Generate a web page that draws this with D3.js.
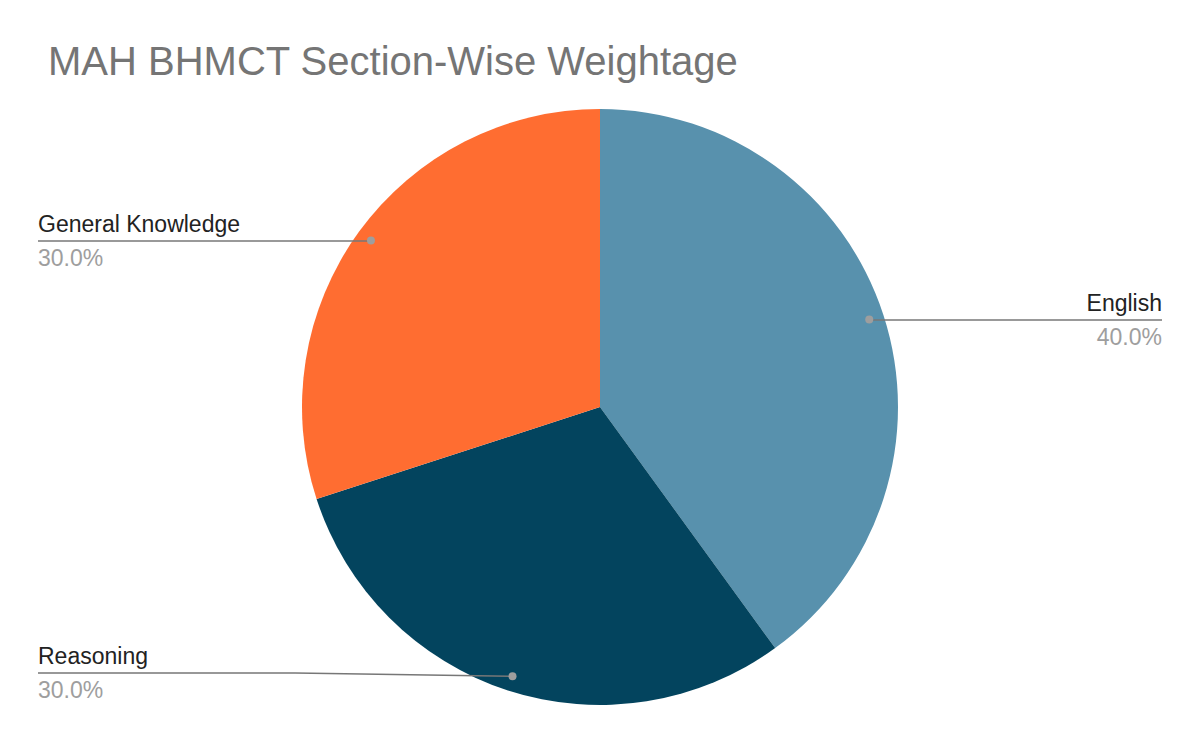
<!DOCTYPE html>
<html>
<head>
<meta charset="utf-8">
<script src="https://cdn.jsdelivr.net/npm/d3@7"></script>
<style>
  body { margin: 0; background: #fff; }
  text { font-family: 'Liberation Sans', Arial, Helvetica, sans-serif; }
</style>
</head>
<body>
<div id="chart"></div>
<script>
// chart data
var categories = ["English", "Reasoning", "General Knowledge"];
var weights = [40, 30, 30];
var colors = ["#5891ad", "#03445e", "#ff6d31"];

var width = 1200;
var height = 742;
var cx = 600, cy = 407, radius = 298;
var fontName = "'Liberation Sans', Arial, sans-serif";

var svg = d3.select('#chart')
    .append('svg')
    .attr('width', width)
    .attr('height', height);

svg.append('text')
    .attr('x', 48)
    .attr('y', 75)
    .attr('font-family', fontName)
    .attr('font-size', 40)
    .attr('fill', '#757575')
    .text('MAH BHMCT Section-Wise Weightage');

var data = categories.map(function(c, i) {
    return {name: c, value: weights[i], color: colors[i]};
});

var pie = d3.pie().sort(null).value(function(d) { return d.value; });
var arcs = pie(data);
var total = d3.sum(weights);

var arc = d3.arc().innerRadius(0).outerRadius(radius);
var dotArc = d3.arc().innerRadius(radius * 0.95).outerRadius(radius * 0.95);

var g = svg.append('g').attr('transform', 'translate(' + cx + ',' + cy + ')');

g.selectAll('.slice')
    .data(arcs)
    .enter()
    .append('path')
    .attr('class', 'slice')
    .attr('d', arc)
    .attr('fill', function(d) { return d.data.color; });

// where each label sits: side and line height
var labelSpots = {
    "English": {side: 'right', x: 1162, y: 320},
    "Reasoning": {side: 'left', x: 38, y: 673},
    "General Knowledge": {side: 'left', x: 38, y: 241}
};

arcs.forEach(function(d) {
    var p = dotArc.centroid(d);
    var px = p[0] + cx, py = p[1] + cy;
    var spot = labelSpots[d.data.name];
    var pts;
    if (Math.abs(py - spot.y) > 1) {
        var bend = spot.side === 'left' ? 295 : px + 40;
        pts = [[spot.x, spot.y], [bend, spot.y], [px, py]];
    } else {
        pts = [[spot.x, spot.y], [px, spot.y]];
    }
    svg.append('path')
        .attr('d', d3.line()(pts))
        .attr('fill', 'none')
        .attr('stroke', '#777')
        .attr('stroke-width', 1.5);
    svg.append('circle')
        .attr('cx', px)
        .attr('cy', py)
        .attr('r', 4)
        .attr('fill', '#9e9e9e');

    var anchor = spot.side === 'left' ? 'start' : 'end';
    svg.append('text')
        .attr('x', spot.x)
        .attr('y', spot.y - 9)
        .attr('text-anchor', anchor)
        .attr('font-family', fontName)
        .attr('font-size', 23)
        .attr('fill', '#222')
        .text(d.data.name);
    svg.append('text')
        .attr('x', spot.x)
        .attr('y', spot.y + 25)
        .attr('text-anchor', anchor)
        .attr('font-family', fontName)
        .attr('font-size', 23)
        .attr('fill', '#9e9e9e')
        .text(d3.format('.1f')(d.data.value / total * 100) + '%');
});
</script>
</body>
</html>
